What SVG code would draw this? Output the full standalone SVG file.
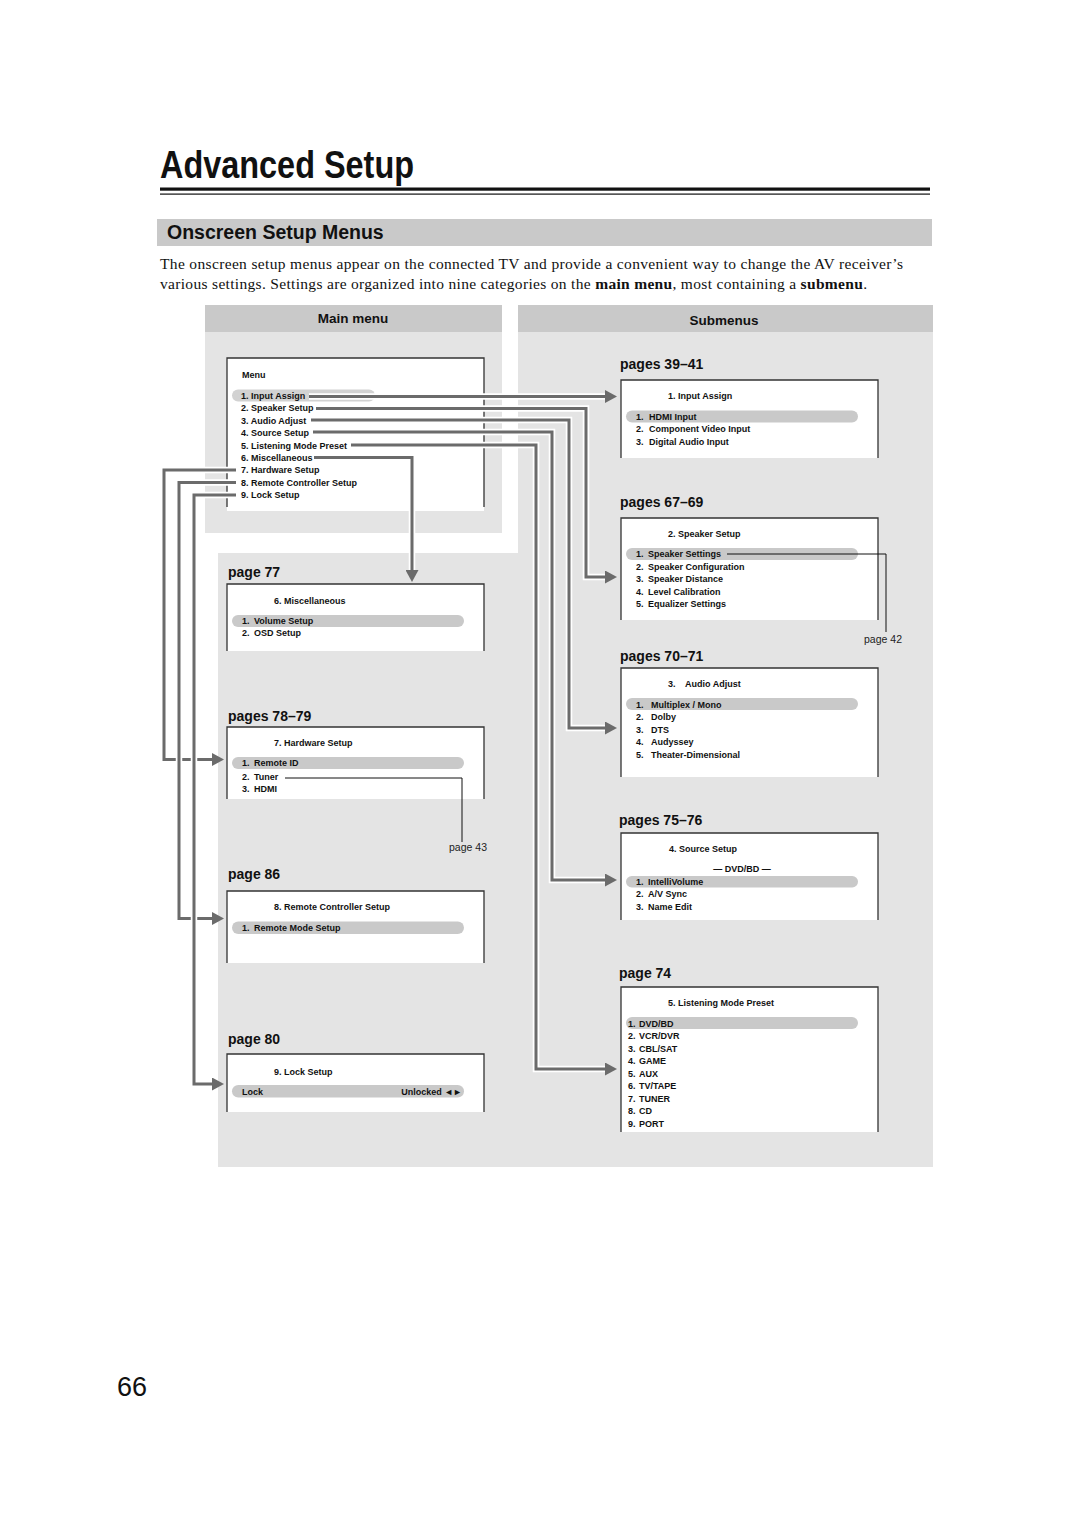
<svg xmlns="http://www.w3.org/2000/svg" width="1080" height="1528" viewBox="0 0 1080 1528" xml:space="preserve">
<style>
.hd{font-family:"Liberation Sans",Arial,sans-serif;font-weight:bold;fill:#111}
.para{font-family:"Liberation Serif","Times New Roman",serif;font-size:15.5px;fill:#111}
.s{font-family:"Liberation Sans",Arial,sans-serif;font-weight:bold;font-size:9px;fill:#111}
.pg{font-family:"Liberation Sans",Arial,sans-serif;font-weight:bold;font-size:14px;fill:#111}
.pr{font-family:"Liberation Sans",Arial,sans-serif;font-size:10.5px;fill:#222}
.box{fill:#fff}
.edge{fill:none;stroke:#333;stroke-width:1.3}
.pill{fill:#c9c9c9}
.halo{fill:none;stroke:#fff;stroke-width:6.5}
.con{fill:none;stroke:#6b6b6b;stroke-width:3;marker-end:url(#ah)}
.thin{fill:none;stroke:#111;stroke-width:1}
</style>
<defs>
<marker id="ah" markerUnits="userSpaceOnUse" markerWidth="12" markerHeight="13" viewBox="0 0 12 13" refX="0" refY="6.5" orient="auto">
<path d="M0,0 L12,6.5 L0,13 z" fill="#6b6b6b"/>
</marker>
</defs>
<rect width="1080" height="1528" fill="#fff"/>

<g id="header">
<text class="hd" x="160" y="178" font-size="38" textLength="254" lengthAdjust="spacingAndGlyphs">Advanced Setup</text>
<rect x="160" y="187.5" width="770" height="3.2" fill="#111"/>
<rect x="160" y="193.5" width="770" height="1.2" fill="#111"/>
<rect x="157" y="219" width="775" height="27" fill="#c9c9c9"/>
<text class="hd" x="167" y="239" font-size="19.5">Onscreen Setup Menus</text>
<text class="para" x="160" y="269" textLength="743">The onscreen setup menus appear on the connected TV and provide a convenient way to change the AV receiver’s</text>
<text class="para" x="160" y="289" textLength="707">various settings. Settings are organized into nine categories on the <tspan font-weight="bold">main menu</tspan>, most containing a <tspan font-weight="bold">submenu</tspan>.</text>
</g>

<g id="panels">
<rect x="205" y="305" width="297" height="27" fill="#c9c9c9"/>
<rect x="205" y="332" width="297" height="201" fill="#e4e4e4"/>
<rect x="518" y="305" width="415" height="27" fill="#c9c9c9"/>
<path d="M518,332 H933 V1167 H218 V553 H518 Z" fill="#e4e4e4"/>
<text class="hd" x="353" y="323" font-size="13.5" text-anchor="middle">Main menu</text>
<text class="hd" x="724" y="325" font-size="13.5" text-anchor="middle">Submenus</text>
</g>

<g id="main-menu">
<rect class="box" x="227" y="358" width="257" height="153"/>
<path class="edge" d="M227,507 V358 H484 V507"/>
<rect x="232" y="389.5" width="143" height="12" rx="6" fill="#d2d2d2"/>
<text class="s" x="242" y="378" font-size="8.5">Menu</text>
<text class="s" x="241" y="399">1. Input Assign</text>
<text class="s" x="241" y="411.4">2. Speaker Setup</text>
<text class="s" x="241" y="423.8">3. Audio Adjust</text>
<text class="s" x="241" y="436.2">4. Source Setup</text>
<text class="s" x="241" y="448.6">5. Listening Mode Preset</text>
<text class="s" x="241" y="461">6. Miscellaneous</text>
<text class="s" x="241" y="473.4">7. Hardware Setup</text>
<text class="s" x="241" y="485.8">8. Remote Controller Setup</text>
<text class="s" x="241" y="498.2">9. Lock Setup</text>
</g>

<g id="sub-input-assign">
<text class="pg" x="620" y="369">pages 39–41</text>
<rect class="box" x="621" y="380" width="257" height="78"/>
<path class="edge" d="M621,458 V380 H878 V458"/>
<rect class="pill" x="626" y="410.5" width="232" height="12" rx="6"/>
<text class="s" x="668" y="399.2">1.  Input Assign</text>
<text class="s" x="636" y="419.5">1.</text><text class="s" x="649" y="419.5">HDMI Input</text>
<text class="s" x="636" y="432">2.</text><text class="s" x="649" y="432">Component Video Input</text>
<text class="s" x="636" y="444.5">3.</text><text class="s" x="649" y="444.5">Digital Audio Input</text>
</g>

<g id="sub-speaker-setup">
<text class="pg" x="620" y="507">pages 67–69</text>
<rect class="box" x="621" y="518" width="257" height="102"/>
<path class="edge" d="M621,620 V518 H878 V620"/>
<rect class="pill" x="626" y="548" width="232" height="12" rx="6"/>
<text class="s" x="668" y="536.5">2.  Speaker Setup</text>
<text class="s" x="636" y="557.2">1.</text><text class="s" x="648" y="557.2">Speaker Settings</text>
<text class="s" x="636" y="569.7">2.</text><text class="s" x="648" y="569.7">Speaker Configuration</text>
<text class="s" x="636" y="582.2">3.</text><text class="s" x="648" y="582.2">Speaker Distance</text>
<text class="s" x="636" y="594.7">4.</text><text class="s" x="648" y="594.7">Level Calibration</text>
<text class="s" x="636" y="607.2">5.</text><text class="s" x="648" y="607.2">Equalizer Settings</text>
<path class="thin" d="M727,554 H886 V632"/>
<text class="pr" x="902" y="643" text-anchor="end">page 42</text>
</g>

<g id="sub-audio-adjust">
<text class="pg" x="620" y="661">pages 70–71</text>
<rect class="box" x="621" y="668" width="257" height="109"/>
<path class="edge" d="M621,777 V668 H878 V777"/>
<rect class="pill" x="626" y="698" width="232" height="12" rx="6"/>
<text class="s" x="668" y="687.2">3.</text><text class="s" x="685" y="687.2">Audio Adjust</text>
<text class="s" x="636" y="707.5">1.</text><text class="s" x="651" y="707.5">Multiplex / Mono</text>
<text class="s" x="636" y="720.2">2.</text><text class="s" x="651" y="720.2">Dolby</text>
<text class="s" x="636" y="732.7">3.</text><text class="s" x="651" y="732.7">DTS</text>
<text class="s" x="636" y="745.2">4.</text><text class="s" x="651" y="745.2">Audyssey</text>
<text class="s" x="636" y="757.5">5.</text><text class="s" x="651" y="757.5">Theater-Dimensional</text>
</g>

<g id="sub-source-setup">
<text class="pg" x="619" y="825">pages 75–76</text>
<rect class="box" x="621" y="833" width="257" height="87"/>
<path class="edge" d="M621,920 V833 H878 V920"/>
<rect class="pill" x="626" y="876" width="232" height="11.5" rx="5.75"/>
<text class="s" x="669" y="852.2">4.  Source Setup</text>
<text class="s" x="742" y="872.2" text-anchor="middle">— DVD/BD —</text>
<text class="s" x="636" y="885">1.</text><text class="s" x="648" y="885">IntelliVolume</text>
<text class="s" x="636" y="897.4">2.</text><text class="s" x="648" y="897.4">A/V Sync</text>
<text class="s" x="636" y="910">3.</text><text class="s" x="648" y="910">Name Edit</text>
</g>

<g id="sub-listening-mode">
<text class="pg" x="619" y="978">page 74</text>
<rect class="box" x="621" y="987" width="257" height="145"/>
<path class="edge" d="M621,1132 V987 H878 V1132"/>
<rect class="pill" x="626" y="1017" width="232" height="12" rx="6"/>
<text class="s" x="668" y="1006.2">5.  Listening Mode Preset</text>
<text class="s" x="628" y="1026.5">1.</text><text class="s" x="639" y="1026.5">DVD/BD</text>
<text class="s" x="628" y="1039">2.</text><text class="s" x="639" y="1039">VCR/DVR</text>
<text class="s" x="628" y="1051.5">3.</text><text class="s" x="639" y="1051.5">CBL/SAT</text>
<text class="s" x="628" y="1064">4.</text><text class="s" x="639" y="1064">GAME</text>
<text class="s" x="628" y="1076.5">5.</text><text class="s" x="639" y="1076.5">AUX</text>
<text class="s" x="628" y="1089">6.</text><text class="s" x="639" y="1089">TV/TAPE</text>
<text class="s" x="628" y="1101.5">7.</text><text class="s" x="639" y="1101.5">TUNER</text>
<text class="s" x="628" y="1114">8.</text><text class="s" x="639" y="1114">CD</text>
<text class="s" x="628" y="1126.5">9.</text><text class="s" x="639" y="1126.5">PORT</text>
</g>

<g id="sub-miscellaneous">
<text class="pg" x="228" y="577">page 77</text>
<rect class="box" x="227" y="584" width="257" height="67"/>
<path class="edge" d="M227,651 V584 H484 V651"/>
<rect class="pill" x="232" y="615" width="232" height="12" rx="6"/>
<text class="s" x="274" y="604.2">6.  Miscellaneous</text>
<text class="s" x="242" y="623.5">1.</text><text class="s" x="254" y="623.5">Volume Setup</text>
<text class="s" x="242" y="636.2">2.</text><text class="s" x="254" y="636.2">OSD Setup</text>
</g>

<g id="sub-hardware-setup">
<text class="pg" x="228" y="721">pages 78–79</text>
<rect class="box" x="227" y="727" width="257" height="72"/>
<path class="edge" d="M227,799 V727 H484 V799"/>
<rect class="pill" x="232" y="757" width="232" height="12" rx="6"/>
<text class="s" x="274" y="746.2">7.  Hardware Setup</text>
<text class="s" x="242" y="766.2">1.</text><text class="s" x="254" y="766.2">Remote ID</text>
<text class="s" x="242" y="780">2.</text><text class="s" x="254" y="780">Tuner</text>
<text class="s" x="242" y="792.2">3.</text><text class="s" x="254" y="792.2">HDMI</text>
<path class="thin" d="M285,778 H462 V842"/>
<text class="pr" x="487" y="851" text-anchor="end">page 43</text>
</g>

<g id="sub-remote-controller">
<text class="pg" x="228" y="879">page 86</text>
<rect class="box" x="227" y="891" width="257" height="72"/>
<path class="edge" d="M227,963 V891 H484 V963"/>
<rect class="pill" x="232" y="921.5" width="232" height="12.5" rx="6.25"/>
<text class="s" x="274" y="910.2">8.  Remote Controller Setup</text>
<text class="s" x="242" y="931">1.</text><text class="s" x="254" y="931">Remote Mode Setup</text>
</g>

<g id="sub-lock-setup">
<text class="pg" x="228" y="1044">page 80</text>
<rect class="box" x="227" y="1054" width="257" height="58"/>
<path class="edge" d="M227,1112 V1054 H484 V1112"/>
<rect class="pill" x="232" y="1085" width="232" height="12.5" rx="6.25"/>
<text class="s" x="274" y="1075.2">9.  Lock Setup</text>
<text class="s" x="242" y="1094.5">Lock</text>
<text class="s" x="462" y="1094.5" text-anchor="end">Unlocked ◄►</text>
</g>

<g id="connectors">
<path class="halo" d="M309,396.5 H605"/><path class="con" d="M309,396.5 H605"/>
<path class="halo" d="M316,408.5 H586 V577 H605"/><path class="con" d="M316,408.5 H586 V577 H605"/>
<path class="halo" d="M311,420 H569 V728 H605"/><path class="con" d="M311,420 H569 V728 H605"/>
<path class="halo" d="M313,432 H552 V880 H605"/><path class="con" d="M313,432 H552 V880 H605"/>
<path class="halo" d="M351,445 H536 V1069 H605"/><path class="con" d="M351,445 H536 V1069 H605"/>
<path class="halo" d="M314,457.5 H412 V570"/><path class="con" d="M314,457.5 H412 V570"/>
<path class="halo" d="M236,470 H164 V759.5 H212"/><path class="con" d="M236,470 H164 V759.5 H212"/>
<path class="halo" d="M236,482.5 H179 V918.5 H212"/><path class="con" d="M236,482.5 H179 V918.5 H212"/>
<path class="halo" d="M236,495 H194 V1084 H212"/><path class="con" d="M236,495 H194 V1084 H212"/>
</g>

<text id="page-number" x="117" y="1396" font-family="Liberation Sans, Arial, sans-serif" font-size="27" fill="#111">66</text>
</svg>
